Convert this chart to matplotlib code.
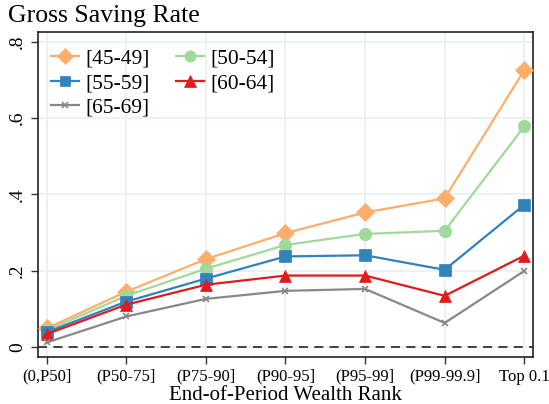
import matplotlib
matplotlib.use("Agg")
import matplotlib.pyplot as plt

plt.rcParams['font.family'] = ['Liberation Serif', 'DejaVu Serif']

ranks = ['(0,P50]', '(P50-75]', '(P75-90]', '(P90-95]', '(P95-99]', '(P99-99.9]', 'Top 0.1']
age_45_49 = [0.050, 0.146, 0.231, 0.299, 0.353, 0.390, 0.725]
age_50_54 = [0.045, 0.135, 0.206, 0.268, 0.297, 0.305, 0.578]
age_55_59 = [0.040, 0.120, 0.180, 0.238, 0.241, 0.203, 0.373]
age_60_64 = [0.035, 0.112, 0.164, 0.188, 0.188, 0.135, 0.240]
age_65_69 = [0.013, 0.081, 0.127, 0.148, 0.153, 0.064, 0.200]

series = [
    ('[45-49]', age_45_49, '#fdae6b', 'D', 9),
    ('[50-54]', age_50_54, '#a1d99b', 'o', 9),
    ('[55-59]', age_55_59, '#3182bd', 's', 8),
    ('[60-64]', age_60_64, '#e31a1c', '^', 9),
    ('[65-69]', age_65_69, '#888888', 'x', 5),
]

fig = plt.figure(figsize=(5.49, 4.04), dpi=100)
ax = fig.add_axes([38/549, 1 - 357/404, (533-38)/549, (357-32)/404])

x = list(range(len(ranks)))
lines = []
for label, vals, color, mk, ms in series:
    ln, = ax.plot(x, vals, color=color, marker=mk, markersize=ms, lw=1.6,
                  label=label, zorder=3, mew=1.2 if mk == 'x' else 0.5)
    lines.append(ln)

ax.axhline(0, color='#333333', lw=1.3, ls=(0, (5, 3.5)), zorder=2)

ax.set_xlim(-0.11, 6.11)
ax.set_ylim(-0.025, 0.825)
ax.set_xticks(x)
ax.set_xticklabels(ranks, fontsize=12)
ax.set_yticks([0, 0.2, 0.4, 0.6, 0.8])
ax.set_yticklabels(['0', '.2', '.4', '.6', '.8'], fontsize=14, rotation=90, va='center')
ax.grid(True, color='#e8f0f3', lw=1.2, zorder=0)
ax.tick_params(direction='out', length=5, width=1, color='#333333')
for s in ax.spines.values():
    s.set_color('#222222')
    s.set_linewidth(1.2)

ax.set_xlabel('End-of-Period Wealth Rank', fontsize=15, labelpad=1)
fig.text(8/549, 1 - 16/404, 'Gross Saving Rate', fontsize=18.5, va='center', ha='left')

# legend fills row by row: two columns
order = [0, 2, 4, 1, 3]
ax.legend([lines[i] for i in order], [series[i][0] for i in order],
          ncol=2, frameon=False, fontsize=15.5, loc='upper left',
          bbox_to_anchor=(0.0, 0.99), handlelength=1.3, columnspacing=1.2,
          labelspacing=0.22, handletextpad=0.3, borderaxespad=0.2,
          markerscale=0.9)

fig.savefig('out.png', dpi=100)
